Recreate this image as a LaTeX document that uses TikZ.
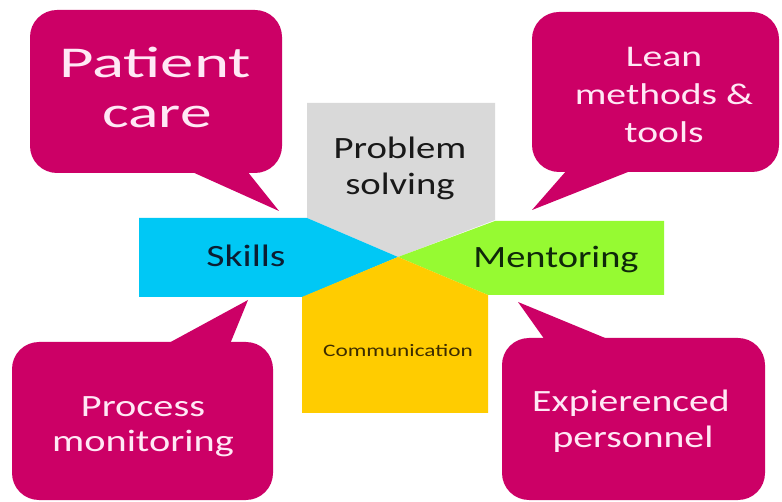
\documentclass[tikz,border=0pt]{standalone}
\usepackage{fontspec}
\setmainfont{Carlito}
\usepackage{graphicx}
\definecolor{callbg}{RGB}{204,0,102}
\definecolor{callfg}{RGB}{255,232,245}
\definecolor{psgray}{RGB}{217,217,217}
\definecolor{skblue}{RGB}{0,200,245}
\definecolor{mtgreen}{RGB}{150,250,50}
\definecolor{cmyellow}{RGB}{255,204,0}
\definecolor{cmtext}{RGB}{60,44,0}
\newcommand\widetext[3]{\fontsize{#1}{#1}\selectfont\scalebox{#2}[1]{#3}}
\begin{document}
\begin{tikzpicture}[x=1pt,y=-1pt,
  bubble/.style={fill=callbg, rounded corners=27pt},
  tail/.style={fill=callbg},
  lbl/.style={anchor=base, inner sep=0pt},
  calltext/.style={lbl, text=callfg}]
\useasboundingbox (0,0) rectangle (782,502);
\fill[white] (0,0) rectangle (782,502);

% speech bubbles
\fill[bubble] (30,10) rectangle (282,173);
\fill[tail] (190,171) -- (279,211) -- (247,171) -- cycle;

\fill[bubble] (532,12) rectangle (779,172);
\fill[tail] (567,170) -- (532,210) -- (633,170) -- cycle;

\fill[bubble] (12,342) rectangle (273,500);
\fill[tail] (167,344) -- (248,300) -- (230,344) -- cycle;

\fill[bubble] (502,338) rectangle (765,500);
\fill[tail] (545,340) -- (518,302) -- (610,340) -- cycle;

% central cross of four arms meeting in one point
\coordinate (hub) at (398,257);
\fill[psgray] (307,103) -- (495,103) -- (495,220) -- (hub) -- (307,218) -- cycle;
\fill[skblue] (139,218) -- (307,218) -- (hub) -- (303,297) -- (139,297) -- cycle;
\fill[mtgreen] (495,221) -- (664,221) -- (664,295) -- (488,295) -- (hub) -- cycle;
\fill[cmyellow] (302,297) -- (hub) -- (488,295) -- (488,413) -- (302,413) -- cycle;

% bubble texts
\node[calltext] (pc1) at (155,78) {\widetext{44}{1.52}{Patient}};
\node[calltext] (pc2) at (157,128) {\widetext{44}{1.44}{care}};

\node[calltext] (lm1) at (664,67) {\widetext{30}{1.32}{Lean}};
\node[calltext] (lm2) at (664,105) {\widetext{30}{1.32}{methods \&}};
\node[calltext] (lm3) at (664,143) {\widetext{30}{1.32}{tools}};

\node[calltext] (pm1) at (143,417) {\widetext{31}{1.3}{Process}};
\node[calltext] (pm2) at (143,452) {\widetext{31}{1.3}{monitoring}};

\node[calltext] (ep1) at (631,412) {\widetext{31}{1.28}{Expierenced}};
\node[calltext] (ep2) at (633,448) {\widetext{31}{1.28}{personnel}};

% arm texts
\node[lbl, text=black!90] (ps1) at (400,159) {\widetext{31}{1.25}{Problem}};
\node[lbl, text=black!90] (ps2) at (400,195) {\widetext{31}{1.25}{solving}};
\node[lbl, text={rgb,255:red,12;green,30;blue,50}] (sk) at (246,267) {\widetext{31}{1.28}{Skills}};
\node[lbl, text={rgb,255:red,15;green,40;blue,10}] (mt) at (556,268) {\widetext{31}{1.24}{Mentoring}};
\node[lbl, text=cmtext] (cm) at (398,357) {\widetext{17.5}{1.33}{Communication}};
\end{tikzpicture}
\end{document}
